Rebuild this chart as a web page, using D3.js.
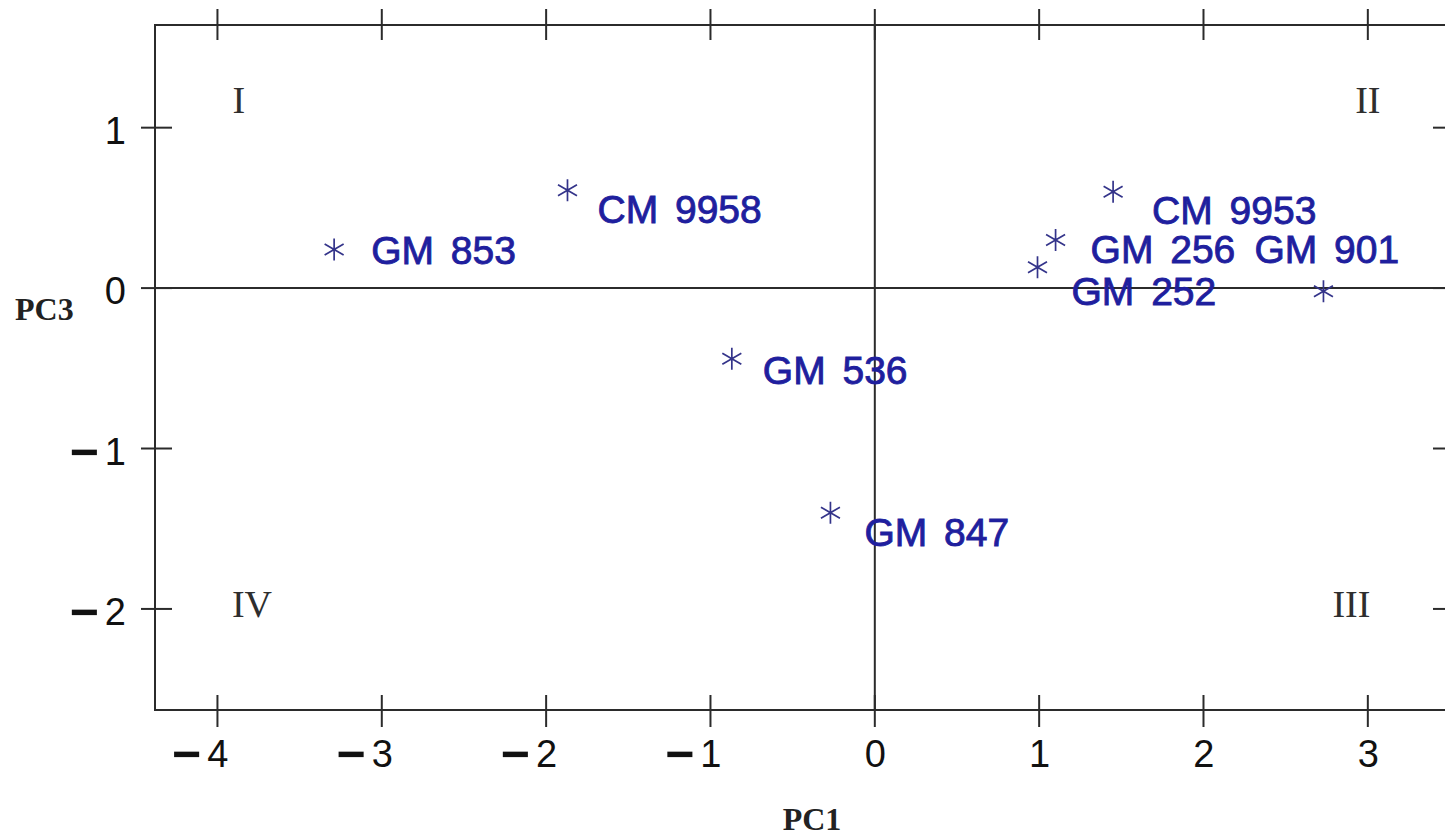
<!DOCTYPE html>
<html>
<head>
<meta charset="utf-8">
<script src="https://cdn.jsdelivr.net/npm/d3@7"></script>
<style>
  html, body { margin: 0; padding: 0; background: #ffffff; }
  svg { display: block; }
</style>
</head>
<body>
<svg id="chart" width="1445" height="838"></svg>
<script>
// Genotype scores on the first and third principal components
const genotypes = ["GM 853", "CM 9958", "GM 536", "GM 847", "CM 9953", "GM 256", "GM 252", "GM 901"];
const pc1Scores = [-3.29, -1.87, -0.87, -0.27, 1.45, 1.10, 0.99, 2.73];
const pc3Scores = [0.24, 0.61, -0.44, -1.40, 0.60, 0.30, 0.13, -0.02];

// Axis ticks
const xTicks = [-4, -3, -2, -1, 0, 1, 2, 3];
const yTicks = [1, 0, -1, -2];

// Quadrant numerals with their anchor in score units
const quadrantNames = ["I", "II", "III", "IV"];
const quadrantPC1 = [-3.87, 3.0, 2.9, -3.79];
const quadrantPC3 = [1.09, 1.09, -2.05, -2.05];

// Label placement (pixel shift of each label from its marker)
const labelShift = [[37, 14], [30, 33], [31, 25], [34, 33], [39, 32], [35, 23], [34, 38], [-69, -28]];

const svg = d3.select("#chart");
const ink = "#2b2b2b";
const labelBlue = "#1f1f9e";
const markBlue = "#34348a";

const x = d3.scaleLinear().domain([-4.38, 3.5]).range([155, 1450]);
const y = d3.scaleLinear().domain([-2.63, 1.64]).range([710, 25]);

const [x0, x1] = x.range();
const [yb, yt] = y.range();

const stroke2 = s => s.attr("stroke", ink).attr("stroke-width", 2);

// Tick marks crossing each side of the frame
svg.append("g")
  .selectAll("line").data(xTicks).join("line")
  .attr("x1", d => x(d)).attr("x2", d => x(d))
  .attr("y1", yt - 16).attr("y2", yt + 15)
  .call(stroke2);

svg.append("g")
  .selectAll("line").data(xTicks).join("line")
  .attr("x1", d => x(d)).attr("x2", d => x(d))
  .attr("y1", yb - 15).attr("y2", yb + 17)
  .call(stroke2);

svg.append("g")
  .selectAll("line").data(yTicks).join("line")
  .attr("x1", x0 - 14).attr("x2", x0 + 17)
  .attr("y1", d => y(d)).attr("y2", d => y(d))
  .call(stroke2);

svg.append("g")
  .selectAll("line").data(yTicks).join("line")
  .attr("x1", x1 - 17).attr("x2", x1 + 14)
  .attr("y1", d => y(d)).attr("y2", d => y(d))
  .call(stroke2);

// Frame
svg.append("rect")
  .attr("x", x0).attr("y", yt)
  .attr("width", x1 - x0).attr("height", yb - yt)
  .attr("fill", "none").call(stroke2);

// Reference lines through the origin
svg.append("line")
  .attr("x1", x0).attr("x2", x1)
  .attr("y1", y(0)).attr("y2", y(0))
  .call(stroke2);
svg.append("line")
  .attr("x1", x(0)).attr("x2", x(0))
  .attr("y1", yt).attr("y2", yb)
  .call(stroke2);

// Tick labels: a long heavy minus sign, a small gap, then the digit
function tickText(sel, d) {
  if (d < 0) {
    sel.append("tspan").attr("font-weight", "bold").attr("font-size", 50).attr("dy", 4).text("\u2212");
    sel.append("tspan").attr("dy", -4).attr("dx", 6).text(Math.abs(d));
  } else {
    sel.append("tspan").text(d);
  }
}

svg.append("g")
  .selectAll("text").data(xTicks).join("text")
  .attr("x", d => x(d) + 11)
  .attr("y", 767)
  .attr("text-anchor", "end")
  .attr("font-family", "'Liberation Sans', Arial, sans-serif")
  .attr("font-size", 38)
  .attr("fill", "#111")
  .each(function (d) { tickText(d3.select(this), d); });

svg.append("g")
  .selectAll("text").data(yTicks).join("text")
  .attr("x", 126)
  .attr("y", d => y(d) + 16)
  .attr("text-anchor", "end")
  .attr("font-family", "'Liberation Sans', Arial, sans-serif")
  .attr("font-size", 38)
  .attr("fill", "#111")
  .each(function (d) { tickText(d3.select(this), d); });

// Axis titles
svg.append("text")
  .attr("x", 812).attr("y", 830)
  .attr("text-anchor", "middle")
  .attr("font-family", "'Liberation Serif', 'Times New Roman', serif")
  .attr("font-weight", "bold").attr("font-size", 32)
  .attr("fill", "#222")
  .text("PC1");

svg.append("text")
  .attr("x", 15).attr("y", 320)
  .attr("font-family", "'Liberation Serif', 'Times New Roman', serif")
  .attr("font-weight", "bold").attr("font-size", 32)
  .attr("fill", "#222")
  .text("PC3");

// Quadrant numerals
svg.append("g")
  .selectAll("text").data(quadrantNames).join("text")
  .attr("x", (d, i) => x(quadrantPC1[i]))
  .attr("y", (d, i) => y(quadrantPC3[i]))
  .attr("text-anchor", "middle")
  .attr("font-family", "'Liberation Serif', 'Times New Roman', serif")
  .attr("font-size", 38)
  .attr("fill", "#2e2e2e")
  .text(d => d);

// Genotype markers
const star = d3.symbol().type(d3.symbolAsterisk).size(340);
const pts = genotypes.map((name, i) => ({ name, px: pc1Scores[i], py: pc3Scores[i], shift: labelShift[i] }));

svg.append("g")
  .selectAll("path").data(pts).join("path")
  .attr("transform", d => `translate(${x(d.px)},${y(d.py)})`)
  .attr("d", star)
  .attr("fill", "none")
  .attr("stroke", markBlue)
  .attr("stroke-width", 1.7);

// Genotype labels
svg.append("g")
  .selectAll("text").data(pts).join("text")
  .attr("x", d => x(d.px) + d.shift[0])
  .attr("y", d => y(d.py) + d.shift[1])
  .attr("font-family", "'Liberation Sans', Arial, sans-serif")
  .attr("font-size", 39)
  .attr("word-spacing", 6)
  .attr("fill", labelBlue)
  .attr("stroke", labelBlue)
  .attr("stroke-width", 0.9)
  .text(d => d.name);
</script>
</body>
</html>
